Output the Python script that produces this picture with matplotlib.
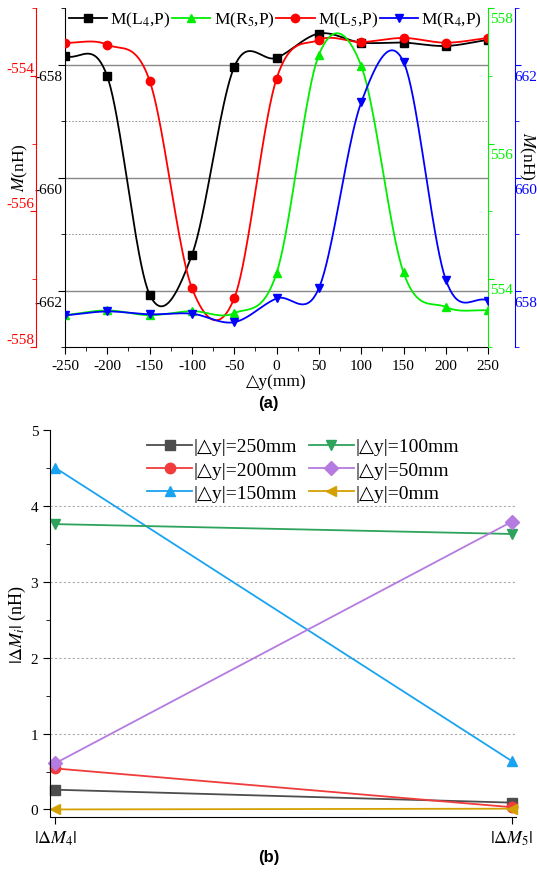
import numpy as np
import matplotlib
matplotlib.use('Agg')
import matplotlib.pyplot as plt
from matplotlib.ticker import MultipleLocator
from matplotlib.transforms import ScaledTranslation

plt.rcParams['font.family'] = ['Liberation Serif', 'DejaVu Serif']
plt.rcParams['mathtext.fontset'] = 'stix'
plt.rcParams['axes.unicode_minus'] = False

# ---- data, panel (a) ----
dy = [-250, -200, -150, -100, -50, 0, 50, 100, 150, 200, 250]
m_l4 = [-657.84, -658.21, -662.07, -661.37, -658.04, -657.88, -657.45, -657.61, -657.61, -657.67, -657.56]
m_r5 = [553.47, 553.54, 553.47, 553.53, 553.50, 554.09, 557.31, 557.15, 554.10, 553.59, 553.54]
m_l5 = [-553.51, -553.54, -554.07, -557.13, -557.28, -554.04, -553.47, -553.50, -553.44, -553.51, -553.44]
m_r4 = [657.56, 657.63, 657.58, 657.59, 657.44, 657.86, 658.04, 661.33, 662.05, 658.19, 657.82]

# ---- data, panel (b) ----
cats = [r'$|\Delta M_4|$', r'$|\Delta M_5|$']
b_labels = ['|△y|=250mm', '|△y|=200mm', '|△y|=150mm', '|△y|=100mm', '|△y|=50mm', '|△y|=0mm']
b_vals = [[0.26, 0.09], [0.54, 0.03], [4.50, 0.64], [3.76, 3.63], [0.61, 3.79], [0.00, 0.01]]
b_colors = ['#4d4d4d', '#f03c3c', '#1aa3f0', '#2ea35c', '#b57be0', '#d4a000']
b_markers = ['s', 'o', '^', 'v', 'D', '<']


def smooth(x, y, per=40):
    # Catmull-Rom curve through the points (for drawing only)
    x = np.asarray(x, float); y = np.asarray(y, float)
    m = np.gradient(y, x)
    xs_all, ys_all = [], []
    for i in range(len(x) - 1):
        h = x[i + 1] - x[i]
        t = np.linspace(0, 1, per, endpoint=(i == len(x) - 2))
        h00 = 2 * t**3 - 3 * t**2 + 1
        h10 = t**3 - 2 * t**2 + t
        h01 = -2 * t**3 + 3 * t**2
        h11 = t**3 - t**2
        xs_all.append(x[i] + t * h)
        ys_all.append(h00 * y[i] + h10 * h * m[i] + h01 * y[i + 1] + h11 * h * m[i + 1])
    return np.concatenate(xs_all), np.concatenate(ys_all)


fig = plt.figure(figsize=(5.37, 8.78), dpi=100)

# ---------------- panel (a) ----------------
ax = fig.add_axes([0.121, 0.6036, 0.788, 0.386])
axr = ax.twinx()
axg = ax.twinx()
axb = ax.twinx()

series = [(ax, m_l4, 'black', 's', 'M(L$_4$,P)'),
          (axg, m_r5, '#00ee00', '^', 'M(R$_5$,P)'),
          (axr, m_l5, 'red', 'o', 'M(L$_5$,P)'),
          (axb, m_r4, 'blue', 'v', 'M(R$_4$,P)')]
handles = []
for a, vals, col, mk, lab in series:
    xs, ys = smooth(dy, vals)
    a.plot(xs, ys, color=col, lw=1.3)
    a.plot(dy, vals, ls='none', marker=mk, color=col, ms=6)
    handles.append(plt.Line2D([], [], color=col, marker=mk, ms=6, lw=1.3, label=lab))

ax.set_xlim(-250, 250)
ax.set_ylim(-663, -657)
axr.set_ylim(-558, -553)
axg.set_ylim(553, 558)
axb.set_ylim(657, 663)

for v in [-658, -660, -662]:
    ax.axhline(v, color='#888888', lw=1.0, zorder=0)
for v in [-659, -661]:
    ax.axhline(v, color='#888888', lw=0.6, ls=(0, (2, 2)), zorder=0)

ax.xaxis.set_major_locator(MultipleLocator(50))
ax.xaxis.set_minor_locator(MultipleLocator(25))
ax.spines['top'].set_visible(False)
ax.spines['right'].set_visible(False)
ax.tick_params(which='both', direction='out', labelsize=11)
ax.tick_params(which='major', length=5)
ax.tick_params(which='minor', length=3)
ax.tick_params(axis='y', pad=-3)
ax.set_xlabel('△y(mm)', fontsize=12.5, labelpad=1)

for a in (axr, axg, axb):
    a.spines['top'].set_visible(False)
    a.spines['bottom'].set_visible(False)

# red outer-left axis
axr.yaxis.set_ticks_position('left')
axr.spines['left'].set_position(('outward', 21))
axr.spines['left'].set_visible(True)
axr.spines['right'].set_visible(False)
axr.spines['left'].set_color('red')

# green inner-right axis
axg.spines['right'].set_color('#00ee00')
axg.spines['left'].set_visible(False)

# blue outer-right axis
axb.spines['right'].set_position(('outward', 19))
axb.spines['right'].set_color('blue')
axb.spines['left'].set_visible(False)

for a in (ax, axr, axg, axb):
    a.yaxis.set_major_locator(MultipleLocator(2))
    a.yaxis.set_minor_locator(MultipleLocator(1))
axr.tick_params(axis='y', colors='red', which='both', labelsize=11, direction='out', pad=-3)
axg.tick_params(axis='y', colors='#00ee00', which='both', labelsize=11, direction='out', pad=-2.5)
axb.tick_params(axis='y', colors='blue', which='both', labelsize=11, direction='out', pad=-4)
for a in (axr, axg, axb):
    a.tick_params(axis='y', which='major', length=4)
    a.tick_params(axis='y', which='minor', length=3)

axb.legend(handles=handles, ncol=4, loc='upper left', bbox_to_anchor=(-0.012, 1.02),
           frameon=False, fontsize=12.5, handlelength=2.2, handletextpad=0.2,
           columnspacing=0.1, borderaxespad=0.1)

fig.text(20 / 537, 1 - 168 / 878, '$M$(nH)', rotation=90, ha='center', va='center', fontsize=12.5)
fig.text(527 / 537, 1 - 156 / 878, '$M$(nH)', rotation=-90, ha='center', va='center', fontsize=12.5)
fig.text(0.5, 1 - 404 / 878, '(a)', ha='center', va='center', fontsize=12,
         fontweight='bold', family='Liberation Sans')

# ---------------- panel (b) ----------------
bx = fig.add_axes([0.0931, 0.0683, 0.868, 0.4408])
xpos = np.arange(len(cats))
for vals, lab, col, mk in zip(b_vals, b_labels, b_colors, b_markers):
    bx.plot(xpos, vals, color=col, marker=mk, ms=7.5, lw=1.3, label=lab, clip_on=False)
for v in [1, 2, 3, 4]:
    bx.axhline(v, color='#aaaaaa', lw=0.8, ls=(0, (2, 2)), zorder=0)
bx.set_xlim(-0.012, 1.01)
bx.set_ylim(-0.1, 5)
bx.set_xticks(xpos)
bx.set_xticklabels(cats, fontsize=13)
bx.yaxis.set_major_locator(MultipleLocator(1))
bx.yaxis.set_minor_locator(MultipleLocator(0.5))
bx.spines['top'].set_visible(False)
bx.spines['right'].set_visible(False)
bx.tick_params(which='both', direction='out', labelsize=11)
bx.tick_params(axis='x', labelsize=13)
bx.tick_params(which='major', length=5)
bx.tick_params(which='minor', length=3)
bx.set_ylabel(r'$|\Delta M_i|$ (nH)', fontsize=13, labelpad=2)
bx.legend(ncol=2, loc='upper right', bbox_to_anchor=(0.895, 1.0), frameon=False,
          handlelength=2.3, handletextpad=0.1, columnspacing=0.6,
          labelspacing=0.3, borderaxespad=0.0,
          prop={'family': ['Liberation Serif', 'DejaVu Sans'], 'size': 14})
fig.text(0.5, 1 - 858 / 878, '(b)', ha='center', va='center', fontsize=12,
         fontweight='bold', family='Liberation Sans')

# Origin-style label offsets next to the ticks
fig.canvas.draw()
shift = [(ax, 'label1', -10), (axr, 'label1', 9), (axb, 'label2', -10), (axg, 'label2', -9)]
for a, which, px in shift:
    off = ScaledTranslation(0, px / 100, fig.dpi_scale_trans)
    for t in a.yaxis.get_major_ticks():
        lab = getattr(t, which)
        lab.set_transform(lab.get_transform() + off)

fig.savefig('out.png', dpi=100)
